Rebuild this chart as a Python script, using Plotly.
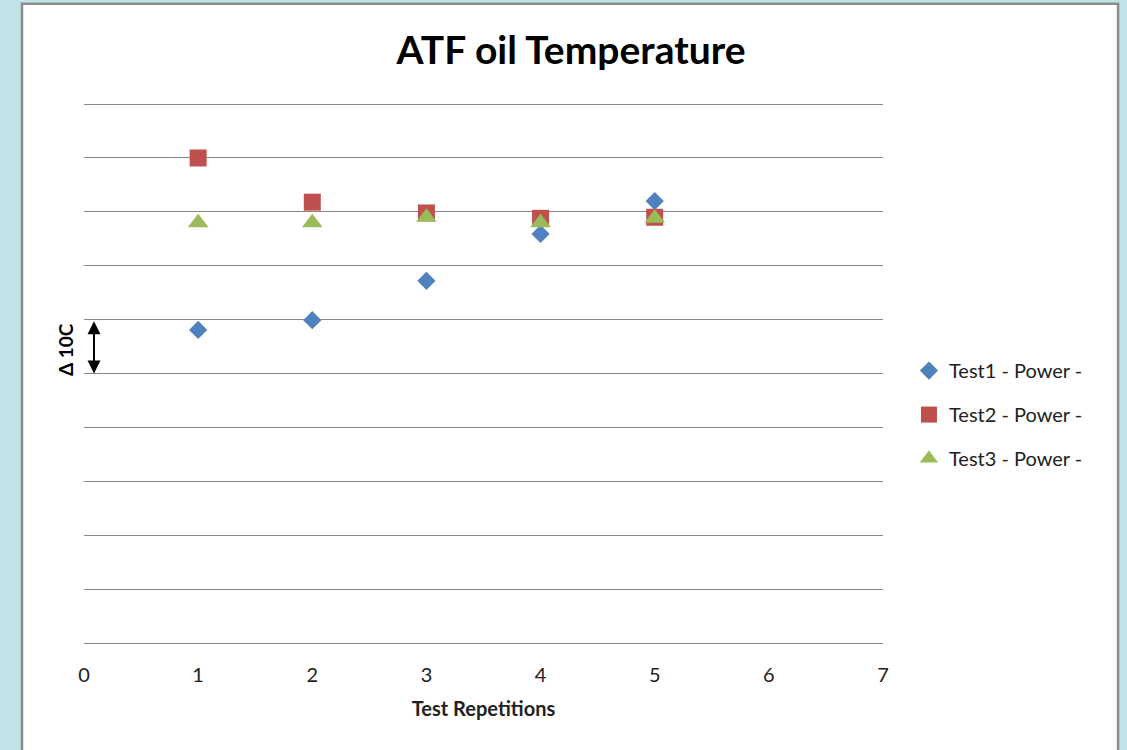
import plotly.graph_objects as go

# Test repetition number on the x axis
repetitions = [1, 2, 3, 4, 5]

# ATF oil temperature readings (relative scale, 10 units per gridline = 10C)
test1_temp = [58.1, 59.9, 67.2, 75.9, 82.0]
test2_temp = [90.0, 81.8, 79.8, 78.8, 79.0]
test3_temp = [78.0, 78.0, 79.0, 78.0, 78.8]

series_names = ["Test1 - Power -", "Test2 - Power -", "Test3 - Power -"]
x_ticks = [0, 1, 2, 3, 4, 5, 6, 7]

FONT = "Lato"
GRID = "#868686"
TEXT = "#222222"

fig = go.Figure()

styles = [
    ("diamond", "#4f81bd", 14),
    ("square", "#c0504d", 17),
    ("triangle-up", "#9bbb59", 18),
]
for name, values, (symbol, color, size) in zip(
        series_names, [test1_temp, test2_temp, test3_temp], styles):
    fig.add_trace(go.Scatter(
        x=repetitions, y=values, mode="markers", name=name,
        legendgroup=name,
        marker=dict(symbol=symbol, color=color, size=size,
                    line=dict(width=0)),
    ))

# White chart area with grey frame on the light-blue page
fig.add_shape(type="rect", xref="paper", yref="paper",
              x0=-0.0776, x1=1.2942, y0=-0.25, y1=1.1837,
              fillcolor="white", line=dict(color="#8c8c8c", width=2.5),
              layer="below")

# Delta 10C scale marker
fig.add_annotation(x=0.0876, y=50, ax=0.0876, ay=60, xref="x", yref="y",
                   axref="x", ayref="y", text="", showarrow=True,
                   arrowhead=2, arrowside="end+start", arrowsize=1.3,
                   arrowwidth=2, arrowcolor="black", standoff=0,
                   startstandoff=0)
fig.add_annotation(x=-0.024, y=54.5, xref="paper", yref="y",
                   xanchor="center", yanchor="middle",
                   text="<b>Δ 10C</b>", showarrow=False, textangle=-90,
                   font=dict(family=FONT, size=19, color="black"))

fig.update_layout(
    width=1127, height=750,
    margin=dict(l=84, r=244, t=103, b=107),
    paper_bgcolor="#c1e2e7",
    plot_bgcolor="white",
    font=dict(family=FONT, color=TEXT),
    title=dict(text="<b>ATF oil Temperature</b>", x=571 / 1127, xanchor="center",
               y=1 - 50 / 750, yanchor="middle",
               font=dict(family=FONT, size=39, color="black")),
    xaxis=dict(range=[0, 7], tickvals=x_ticks, showgrid=False, zeroline=False,
               showline=True, linecolor=GRID, linewidth=1,
               ticks="", ticklabelstandoff=14,
               tickfont=dict(size=20, color=TEXT),
               title=dict(text="<b>Test Repetitions</b>", standoff=16,
                          font=dict(size=20, color=TEXT))),
    yaxis=dict(range=[0, 100.2], tickvals=list(range(0, 101, 10)),
               showticklabels=False,
               showgrid=True, gridcolor=GRID, gridwidth=1,
               zeroline=False, showline=False, ticks=""),
    legend=dict(x=1.0325, xanchor="left", y=0.423, yanchor="middle",
                font=dict(family=FONT, size=20, color=TEXT),
                tracegroupgap=15, bgcolor="rgba(0,0,0,0)"),
)

fig.write_html("out.html")
